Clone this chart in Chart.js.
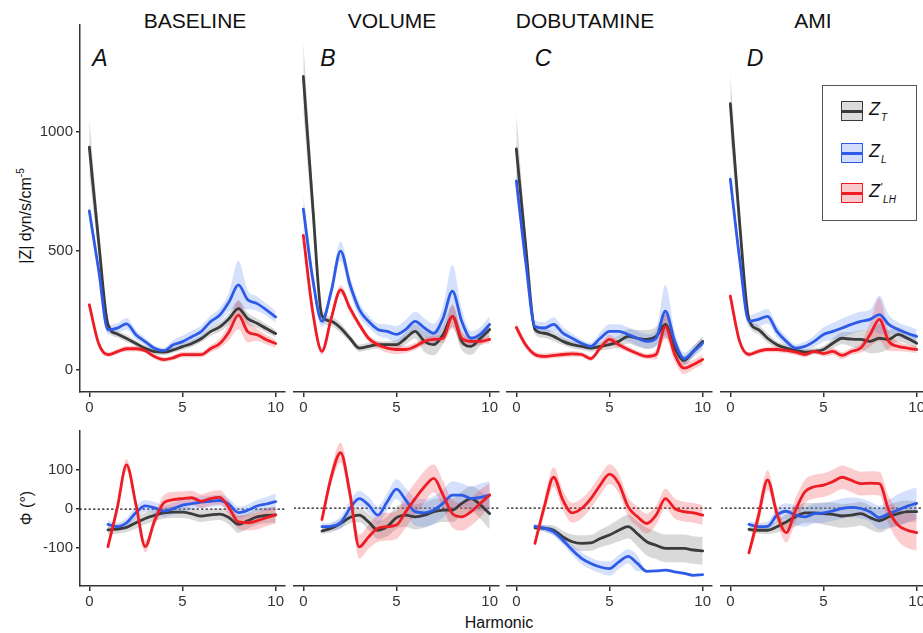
<!DOCTYPE html>
<html>
<head>
<meta charset="utf-8">
<script src="https://cdn.jsdelivr.net/npm/chart.js@4.4.1/dist/chart.umd.min.js"></script>
<style>
  body { margin: 0; width: 923px; height: 633px; overflow: hidden; background: #fff; position: relative;
         font-family: "Liberation Sans", Arial, sans-serif; color: #111; }
  canvas { position: absolute; }
  .txt { position: absolute; white-space: nowrap; transform: translate(-50%, -50%); }
  .head { font-size: 21px; }
  .letter { font-size: 23px; font-style: italic; }
  .ytitle { font-size: 16px; transform: translate(-50%, -50%) rotate(-90deg); }
  .ytitle sup { font-size: 10px; }
  #legend { position: absolute; left: 822px; top: 85px; width: 93px; height: 134px;
            border: 1px solid #555; background: #fff; z-index: 5; }
  .key { position: absolute; left: 18px; width: 20px; height: 18px; border: 1.5px solid; }
  .key div { position: absolute; left: 0; right: 0; top: 8px; height: 2.5px; }
  .name { position: absolute; left: 46px; font-size: 18px; font-style: italic; }
  .name .sub { font-size: 10px; position: relative; top: 6px; margin-left: 1px; }
  .name .pr { font-size: 11px; position: relative; top: -6px; }
</style>
</head>
<body>

<div class="txt head" style="left:195px;top:21px">BASELINE</div>
<div class="txt head" style="left:392px;top:21px">VOLUME</div>
<div class="txt head" style="left:585px;top:21px">DOBUTAMINE</div>
<div class="txt head" style="left:813px;top:21px">AMI</div>

<div class="txt letter" style="left:100px;top:58px">A</div>
<div class="txt letter" style="left:328px;top:58px">B</div>
<div class="txt letter" style="left:543px;top:58px">C</div>
<div class="txt letter" style="left:755px;top:58px">D</div>

<div class="txt ytitle" style="left:25px;top:216px">|Z| dyn/s/cm<sup>-5</sup></div>
<div class="txt ytitle" style="left:27px;top:508px">Φ (°)</div>
<div class="txt" style="left:499px;top:623px;font-size:16px">Harmonic</div>

<div id="legend">
  <div class="key" style="top:15px;border-color:#3b3b3b;background:#dcdcdc"><div style="background:#3b3b3b"></div></div>
  <div class="name" style="top:13px">Z<span class="sub">T</span></div>
  <div class="key" style="top:57px;border-color:#2d5be8;background:#d3defc"><div style="background:#2d5be8"></div></div>
  <div class="name" style="top:55px">Z<span class="sub">L</span></div>
  <div class="key" style="top:97px;border-color:#ee1c24;background:#f9c9cb"><div style="background:#ee1c24"></div></div>
  <div class="name" style="top:95px">Z<span class="pr">'</span><span class="sub">LH</span></div>
</div>

<script>
var harmonics = [0, 0.5, 1, 1.5, 2, 2.5, 3, 3.5, 4, 4.5, 5, 5.5, 6, 6.5, 7, 7.5, 8, 8.5, 9, 9.5, 10];

// |Z| (dyn/s/cm-5): mean and spread for Z_T, Z_L, Z'_LH
var magT_base  = [937, 540, 190, 150, 131, 110, 90, 76, 74, 83, 97, 110, 130, 160, 180, 215, 257, 215, 195, 173, 152];
var magT_baseS = [120, 60, 20, 15, 15, 12, 12, 12, 12, 12, 14, 15, 15, 18, 20, 25, 35, 25, 20, 18, 15];
var magL_base  = [668, 420, 168, 175, 193, 147, 118, 90, 80, 105, 118, 139, 160, 202, 230, 286, 357, 294, 278, 252, 222];
var magL_baseS = [40, 30, 20, 20, 25, 20, 15, 12, 12, 20, 25, 25, 25, 25, 30, 40, 100, 40, 30, 25, 25];
var magH_base  = [273, 110, 63, 76, 88, 88, 80, 55, 42, 50, 63, 63, 63, 88, 110, 160, 230, 160, 147, 126, 110];
var magH_baseS = [25, 15, 10, 10, 12, 12, 10, 10, 10, 10, 12, 12, 12, 15, 20, 35, 60, 45, 25, 20, 18];

var magT_vol  = [1227, 690, 225, 202, 174, 131, 90, 97, 104, 104, 104, 131, 160, 118, 104, 147, 223, 118, 97, 131, 168];
var magT_volS = [150, 80, 25, 20, 20, 15, 15, 15, 15, 15, 20, 25, 30, 45, 45, 40, 45, 35, 35, 30, 30];
var magL_vol  = [672, 382, 202, 328, 496, 357, 252, 202, 168, 160, 147, 168, 202, 174, 152, 215, 328, 202, 131, 147, 189];
var magL_volS = [60, 40, 25, 30, 40, 35, 30, 25, 25, 30, 35, 40, 40, 40, 40, 50, 110, 50, 30, 30, 35];
var magH_vol  = [562, 244, 76, 215, 334, 257, 189, 131, 104, 90, 84, 84, 97, 118, 126, 131, 223, 131, 118, 118, 126];
var magH_volS = [40, 25, 15, 15, 20, 20, 15, 15, 15, 20, 20, 15, 15, 15, 15, 20, 50, 30, 20, 15, 15];

var magT_dob  = [924, 520, 168, 152, 139, 118, 104, 97, 90, 97, 104, 118, 139, 131, 126, 139, 189, 90, 38, 76, 118];
var magT_dobS = [150, 60, 20, 20, 20, 15, 15, 15, 15, 15, 20, 25, 30, 35, 40, 40, 45, 30, 20, 20, 20];
var magL_dob  = [790, 454, 180, 174, 189, 152, 131, 110, 97, 131, 160, 160, 147, 131, 118, 131, 244, 118, 46, 76, 110];
var magL_dobS = [50, 30, 25, 25, 30, 25, 20, 15, 15, 25, 30, 30, 30, 30, 30, 35, 110, 40, 25, 25, 25];
var magH_dob  = [176, 104, 63, 55, 59, 63, 66, 63, 46, 90, 126, 104, 84, 67, 55, 63, 180, 63, 6, 21, 42];
var magH_dobS = [20, 15, 12, 12, 12, 12, 12, 10, 10, 15, 20, 15, 12, 12, 12, 20, 50, 30, 25, 20, 20];

var magT_ami  = [1113, 613, 210, 168, 131, 104, 90, 80, 73, 76, 84, 110, 131, 127, 126, 118, 131, 126, 147, 131, 110];
var magT_amiS = [130, 60, 20, 20, 20, 15, 15, 12, 12, 12, 15, 20, 25, 30, 40, 50, 60, 40, 30, 25, 25];
var magL_ami  = [797, 463, 202, 210, 223, 160, 118, 90, 97, 118, 147, 160, 174, 189, 202, 210, 230, 189, 168, 152, 139];
var magL_amiS = [40, 30, 25, 30, 30, 25, 20, 15, 20, 25, 30, 35, 40, 40, 40, 40, 80, 40, 30, 30, 30];
var magH_ami  = [307, 118, 63, 76, 84, 84, 80, 73, 63, 76, 67, 76, 59, 76, 90, 147, 210, 118, 97, 90, 84];
var magH_amiS = [30, 15, 10, 10, 10, 12, 12, 12, 12, 12, 12, 15, 15, 15, 20, 50, 90, 40, 20, 15, 15];

// phase (degrees), starts at harmonic 1
var phT_base  = [null, null, -53, -51, -47, -35, -24, -16, -10, -8, -8, -12, -18, -15, -13, -22, -39, -30, -20, -16, -15];
var phT_baseS = [null, null, 12, 12, 12, 15, 15, 15, 15, 15, 15, 15, 15, 15, 15, 18, 22, 20, 20, 20, 20];
var phL_base  = [null, null, -39, -45, -35, -9, 8, 3, -5, 1, 10, 14, 18, 20, 22, 12, -9, -3, 8, 13, 19];
var phL_baseS = [null, null, 10, 10, 12, 15, 15, 15, 15, 15, 15, 15, 15, 15, 15, 15, 15, 15, 15, 18, 20];
var phH_base  = [null, null, -96, 3, 113, 12, -96, -30, 16, 24, 27, 29, 20, 27, 30, 3, -33, -35, -30, -22, -15];
var phH_baseS = [null, null, 10, 12, 15, 15, 15, 15, 20, 20, 18, 18, 18, 18, 18, 18, 18, 20, 22, 22, 22];

var phT_vol  = [null, null, -58, -51, -39, -24, -18, -35, -56, -47, -24, -18, -22, -18, -9, -5, -5, 12, 24, 8, -14];
var phT_volS = [null, null, 8, 10, 12, 15, 18, 20, 22, 25, 28, 30, 32, 32, 32, 30, 30, 30, 32, 35, 40];
var phL_vol  = [null, null, -47, -46, -37, -1, 24, 8, -18, 16, 48, 20, -9, -12, -5, 12, 33, 33, 24, 27, 33];
var phL_volS = [null, null, 8, 10, 15, 20, 20, 20, 22, 22, 25, 30, 35, 35, 35, 35, 35, 30, 30, 35, 35];
var phH_vol  = [null, null, -29, 79, 140, 37, -98, -73, -51, -47, -43, -9, 24, 54, 75, 33, -14, -22, -9, 12, 33];
var phH_volS = [null, null, 10, 20, 25, 25, 30, 30, 35, 35, 35, 40, 40, 40, 35, 35, 35, 35, 35, 35, 30];

var phT_dob  = [null, null, -50, -51, -56, -73, -85, -89, -88, -77, -68, -56, -47, -65, -85, -94, -102, -102, -102, -106, -108];
var phT_dobS = [null, null, 5, 8, 12, 15, 18, 20, 20, 22, 25, 28, 30, 32, 35, 35, 35, 35, 35, 35, 35];
var phL_dob  = [null, null, -46, -51, -60, -81, -106, -127, -140, -149, -153, -136, -122, -140, -160, -159, -157, -161, -165, -170, -168];
var phL_dobS = [null, null, 5, 8, 10, 12, 12, 15, 15, 15, 18, 18, 18, 20, 0, 0, 0, 0, 0, 0, 0];
var phH_dob  = [null, null, -89, 3, 78, 20, -12, -1, 24, 58, 86, 62, 3, -22, -39, -18, 24, -1, -9, -12, -18];
var phH_dobS = [null, null, 10, 20, 25, 25, 25, 25, 25, 25, 25, 25, 25, 25, 25, 25, 25, 25, 25, 25, 25];

var phT_ami  = [null, null, -54, -56, -56, -47, -35, -22, -12, -12, -14, -16, -20, -18, -14, -24, -32, -22, -14, -9, -9];
var phT_amiS = [null, null, 5, 8, 10, 15, 20, 25, 25, 25, 28, 30, 30, 30, 30, 30, 30, 30, 30, 28, 25];
var phL_ami  = [null, null, -41, -47, -46, -18, -8, -18, -22, -14, -12, -7, -1, 2, -1, -9, -24, -14, -5, 5, 12];
var phL_amiS = [null, null, 8, 10, 12, 18, 20, 25, 25, 25, 25, 25, 25, 25, 25, 25, 30, 35, 40, 40, 40];
var phH_ami  = [null, null, -113, -22, 71, -14, -62, -5, 41, 54, 58, 67, 78, 70, 62, 63, 62, -5, -43, -56, -62];
var phH_amiS = [null, null, 10, 25, 25, 20, 25, 30, 30, 30, 30, 30, 30, 30, 30, 30, 30, 35, 40, 45, 45];

var xTicks = [0, 5, 10];
var magTicks = [0, 500, 1000];
var phTicks = [-100, 0, 100];

var styles = {
  T: { line: '#3b3b3b', band: 'rgba(130,130,130,0.30)' },
  L: { line: '#2d5be8', band: 'rgba(90,135,245,0.26)' },
  H: { line: '#ee1c24', band: 'rgba(240,60,70,0.26)' }
};

var colLeft = [80, 294, 507, 721];
var plotW = 205;
var rows = [
  { top: 23, h: 369, min: -94, max: 1451, ticks: magTicks, zero: false },
  { top: 429, h: 157, min: -197, max: 200, ticks: phTicks, zero: true }
];

var panels = [
  [0, 0, [[magT_base, magT_baseS], [magL_base, magL_baseS], [magH_base, magH_baseS]]],
  [0, 1, [[magT_vol, magT_volS], [magL_vol, magL_volS], [magH_vol, magH_volS]]],
  [0, 2, [[magT_dob, magT_dobS], [magL_dob, magL_dobS], [magH_dob, magH_dobS]]],
  [0, 3, [[magT_ami, magT_amiS], [magL_ami, magL_amiS], [magH_ami, magH_amiS]]],
  [1, 0, [[phT_base, phT_baseS], [phL_base, phL_baseS], [phH_base, phH_baseS]]],
  [1, 1, [[phT_vol, phT_volS], [phL_vol, phL_volS], [phH_vol, phH_volS]]],
  [1, 2, [[phT_dob, phT_dobS], [phL_dob, phL_dobS], [phH_dob, phH_dobS]]],
  [1, 3, [[phT_ami, phT_amiS], [phL_ami, phL_amiS], [phH_ami, phH_amiS]]]
];

function pts(vals, sd, sign) {
  return harmonics.map(function(h, i) {
    var v = vals[i];
    if (v == null) return { x: h, y: null };
    return { x: h, y: sd ? v + sign * sd[i] : v };
  });
}

var font = { family: 'Liberation Sans', size: 15 };
function plain(v) { return String(v); }

panels.forEach(function(p) {
  var row = rows[p[0]], col = p[1], series = p[2];
  var keys = ['T', 'L', 'H'];
  var lines = [], bands = [];
  series.forEach(function(s, k) {
    var st = styles[keys[k]];
    lines.unshift({ data: pts(s[0]), borderColor: st.line, borderWidth: 2.8, fill: false });
    bands.unshift(
      { data: pts(s[0], s[1], 1), borderWidth: 0, borderColor: 'rgba(0,0,0,0)', backgroundColor: st.band, fill: '+1' },
      { data: pts(s[0], s[1], -1), borderWidth: 0, borderColor: 'rgba(0,0,0,0)', fill: false }
    );
  });
  var datasets = lines.concat(bands);
  if (row.zero) {
    datasets.push({ data: [{ x: -0.5, y: 0 }, { x: 10.5, y: 0 }], borderColor: '#111', borderWidth: 1.2,
                    borderDash: [1.5, 3], fill: false });
  }

  var cv = document.createElement('canvas');
  cv.width = 80 + plotW + 10;
  cv.height = 10 + row.h + 40;
  cv.style.left = (colLeft[col] - 80) + 'px';
  cv.style.top = (row.top - 10) + 'px';
  document.body.appendChild(cv);

  var first = col === 0;
  new Chart(cv, {
    type: 'line',
    data: { datasets: datasets },
    options: {
      responsive: false,
      animation: false,
      events: [],
      layout: { padding: { left: 0, top: 10, right: 10, bottom: 0 } },
      plugins: { legend: { display: false }, tooltip: { enabled: false } },
      elements: {
        point: { radius: 0 },
        line: { cubicInterpolationMode: 'monotone', borderCapStyle: 'round', borderJoinStyle: 'round' }
      },
      scales: {
        x: {
          type: 'linear', min: -0.5, max: 10.5,
          afterBuildTicks: function(a) { a.ticks = xTicks.map(function(v) { return { value: v }; }); },
          afterFit: function(a) { a.height = 40; },
          ticks: { font: font, color: '#333', padding: 2, maxRotation: 0, autoSkip: false, callback: plain },
          grid: { drawOnChartArea: false, drawTicks: true, tickLength: 5, color: '#333', lineWidth: 1.5 },
          border: { display: true, color: '#333', width: 1.5 }
        },
        y: {
          min: row.min, max: row.max,
          afterBuildTicks: function(a) { a.ticks = row.ticks.map(function(v) { return { value: v }; }); },
          afterFit: function(a) { a.width = 80; },
          ticks: { display: first, font: font, color: '#333', padding: 3, callback: plain },
          grid: { display: first, drawOnChartArea: false, drawTicks: true, tickLength: 4, color: '#333', lineWidth: 1.5 },
          border: { display: first, color: '#333', width: 1.5 }
        }
      }
    }
  });
});
</script>
</body>
</html>
